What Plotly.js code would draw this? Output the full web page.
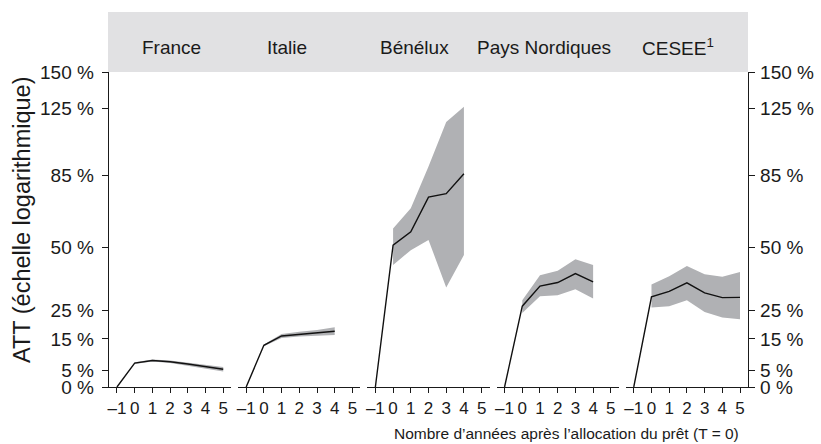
<!DOCTYPE html>
<html>
<head>
<meta charset="utf-8">
<script src="https://cdn.plot.ly/plotly-3.0.1.min.js"></script>
<style>
  html, body { margin: 0; padding: 0; background: #ffffff; }
  #chart { width: 821px; height: 444px; }
</style>
</head>
<body>
<div id="chart"></div>
<script>
// Regions shown in the five panels
const regions = ["France", "Italie", "Bénélux", "Pays Nordiques", "CESEE<sup>1</sup>"];

// Years relative to loan allocation (T = 0)
const yearsLong = [-1, 0, 1, 2, 3, 4, 5];
const yearsShort = [-1, 0, 1, 2, 3, 4];

// ATT estimates in percent, with lower / upper confidence bounds (bounds start at T = 0)
const franceATT   = [0, 7.2, 8.0, 7.6, 6.9, 6.1, 5.3];
const franceLow   = [6.9, 7.7, 7.2, 6.4, 5.5, 4.6];
const franceHigh  = [7.5, 8.3, 8.0, 7.4, 6.7, 6.0];

const italieATT   = [0, 12.9, 16.0, 16.6, 17.0, 17.6];
const italieLow   = [12.6, 15.3, 15.8, 16.1, 16.3];
const italieHigh  = [13.2, 16.7, 17.4, 18.0, 19.0];

const beneluxATT  = [0, 51.1, 57.1, 73.7, 75.5, 85.9];
const beneluxLow  = [42.6, 48.9, 53.4, 33.6, 46.8];
const beneluxHigh = [58.6, 68.2, 89.9, 116.2, 125.9];

const nordATT     = [0, 26.5, 34.1, 35.5, 39.1, 35.8];
const nordLow     = [24.0, 30.2, 30.6, 32.9, 29.4];
const nordHigh    = [28.7, 38.4, 40.2, 45.0, 42.6];

const ceseeATT    = [0, 30.0, 32.1, 35.4, 31.5, 29.7, 29.8];
const ceseeLow    = [26.0, 26.5, 28.7, 24.4, 22.4, 21.8];
const ceseeHigh   = [34.7, 38.0, 42.2, 38.8, 37.8, 39.7];

// Y-axis labels (percent); the axis is logarithmic in (1 + ATT)
const yTickPct = [0, 5, 15, 25, 50, 85, 125, 150];
const yTickText = yTickPct.map(v => v + " %");
const xTickVals = [-1, 0, 1, 2, 3, 4, 5];
const xTickText = ["\u20131", "0", "1", "2", "3", "4", "5"];

const toAxis = arr => arr.map(v => 1 + v / 100);

const panels = [
  { x: yearsLong,  att: franceATT,  lo: franceLow,  hi: franceHigh },
  { x: yearsShort, att: italieATT,  lo: italieLow,  hi: italieHigh },
  { x: yearsShort, att: beneluxATT, lo: beneluxLow, hi: beneluxHigh },
  { x: yearsShort, att: nordATT,    lo: nordLow,    hi: nordHigh },
  { x: yearsLong,  att: ceseeATT,   lo: ceseeLow,   hi: ceseeHigh }
];

const BAND = "#b0b1b4";
const FONT = "Liberation Sans, Arial, Helvetica, sans-serif";

const traces = [];
panels.forEach((p, i) => {
  const xa = i === 0 ? "x" : "x" + (i + 1);
  const bx = p.x.slice(1);
  traces.push({
    x: bx, y: toAxis(p.lo), xaxis: xa, yaxis: "y",
    mode: "lines", line: { width: 0, color: BAND },
    hoverinfo: "skip", showlegend: false
  });
  traces.push({
    x: bx, y: toAxis(p.hi), xaxis: xa, yaxis: "y",
    mode: "lines", line: { width: 0, color: BAND },
    fill: "tonexty", fillcolor: BAND,
    hoverinfo: "skip", showlegend: false
  });
  traces.push({
    x: p.x, y: toAxis(p.att), xaxis: xa, yaxis: "y",
    mode: "lines", line: { width: 1.4, color: "#111111" },
    showlegend: false
  });
});

// invisible trace so the right-hand axis is drawn
traces.push({
  x: [0], y: [1], xaxis: "x5", yaxis: "y2",
  mode: "markers", marker: { opacity: 0 }, hoverinfo: "skip", showlegend: false
});

const L = 109, R = 748, T = 72, B = 387;
const W = 821, H = 444;
const plotW = R - L;
const gap = 7;
const panelW = (plotW - 4 * gap) / 5;

const layout = {
  width: W, height: H,
  margin: { l: L, r: W - R, t: T, b: H - B, pad: 0 },
  paper_bgcolor: "#ffffff",
  plot_bgcolor: "rgba(0,0,0,0)",
  font: { family: FONT, color: "#1a1a1a", size: 17 },
  showlegend: false,
  shapes: [{
    type: "rect", xref: "paper", yref: "paper",
    x0: -1 / plotW, x1: 1, y0: 1, y1: 1 + (T - 12) / (B - T),
    fillcolor: "#e1e1e3", line: { width: 0 }, layer: "below"
  }],
  annotations: [],
  yaxis: {
    type: "log", range: [0, Math.log10(2.5)],
    tickvals: toAxis(yTickPct), ticktext: yTickText,
    showline: true, linecolor: "#1a1a1a", linewidth: 1.3,
    ticks: "outside", ticklen: 6, tickcolor: "#1a1a1a", tickwidth: 1,
    ticklabelstandoff: 4,
    showgrid: false, zeroline: false,
    tickfont: { size: 19, family: FONT, color: "#1a1a1a" },
    anchor: "x"
  },
  yaxis2: {
    type: "log", range: [0, Math.log10(2.5)],
    tickvals: toAxis(yTickPct), ticktext: yTickText,
    overlaying: "y", side: "right", anchor: "x5",
    showline: true, linecolor: "#1a1a1a", linewidth: 1.3,
    ticks: "outside", ticklen: 6, tickcolor: "#1a1a1a", tickwidth: 1,
    ticklabelstandoff: 1,
    showgrid: false, zeroline: false,
    tickfont: { size: 19, family: FONT, color: "#1a1a1a" }
  }
};

const titleCenters = [171, 287, 414, 544, 678];
for (let i = 0; i < 5; i++) {
  const key = i === 0 ? "xaxis" : "xaxis" + (i + 1);
  const start = (i * (panelW + gap)) / plotW;
  const end = (i * (panelW + gap) + panelW) / plotW;
  layout[key] = {
    domain: [start, end],
    range: [-1.45, 5.45],
    anchor: "y",
    tickvals: xTickVals, ticktext: xTickText,
    showline: true, linecolor: "#1a1a1a", linewidth: 1.3,
    ticks: "outside", ticklen: 5, tickcolor: "#1a1a1a", tickwidth: 1,
    showgrid: false, zeroline: false,
    tickfont: { size: 17, family: FONT, color: "#1a1a1a" }
  };
  layout.annotations.push({
    text: regions[i], xref: "paper", yref: "paper",
    x: (titleCenters[i] - L) / plotW, y: (B - 47) / (B - T),
    xanchor: "center", yanchor: "middle", showarrow: false,
    font: { size: 19, family: FONT, color: "#1a1a1a" }
  });
}

layout.annotations.push({
  text: "ATT (échelle logarithmique)", xref: "paper", yref: "paper",
  x: (22 - L) / plotW, y: (B - 220) / (B - T),
  xanchor: "center", yanchor: "middle", textangle: -90, showarrow: false,
  font: { size: 23.5, family: FONT, color: "#1a1a1a" }
});
layout.annotations.push({
  text: "Nombre d\u2019années après l\u2019allocation du prêt (T = 0)",
  xref: "paper", yref: "paper",
  x: (741 - L) / plotW, y: (B - 433) / (B - T),
  xanchor: "right", yanchor: "middle", showarrow: false,
  font: { size: 15.5, family: FONT, color: "#1a1a1a" }
});

Plotly.newPlot("chart", traces, layout, { staticPlot: true, displayModeBar: false });
</script>
</body>
</html>
